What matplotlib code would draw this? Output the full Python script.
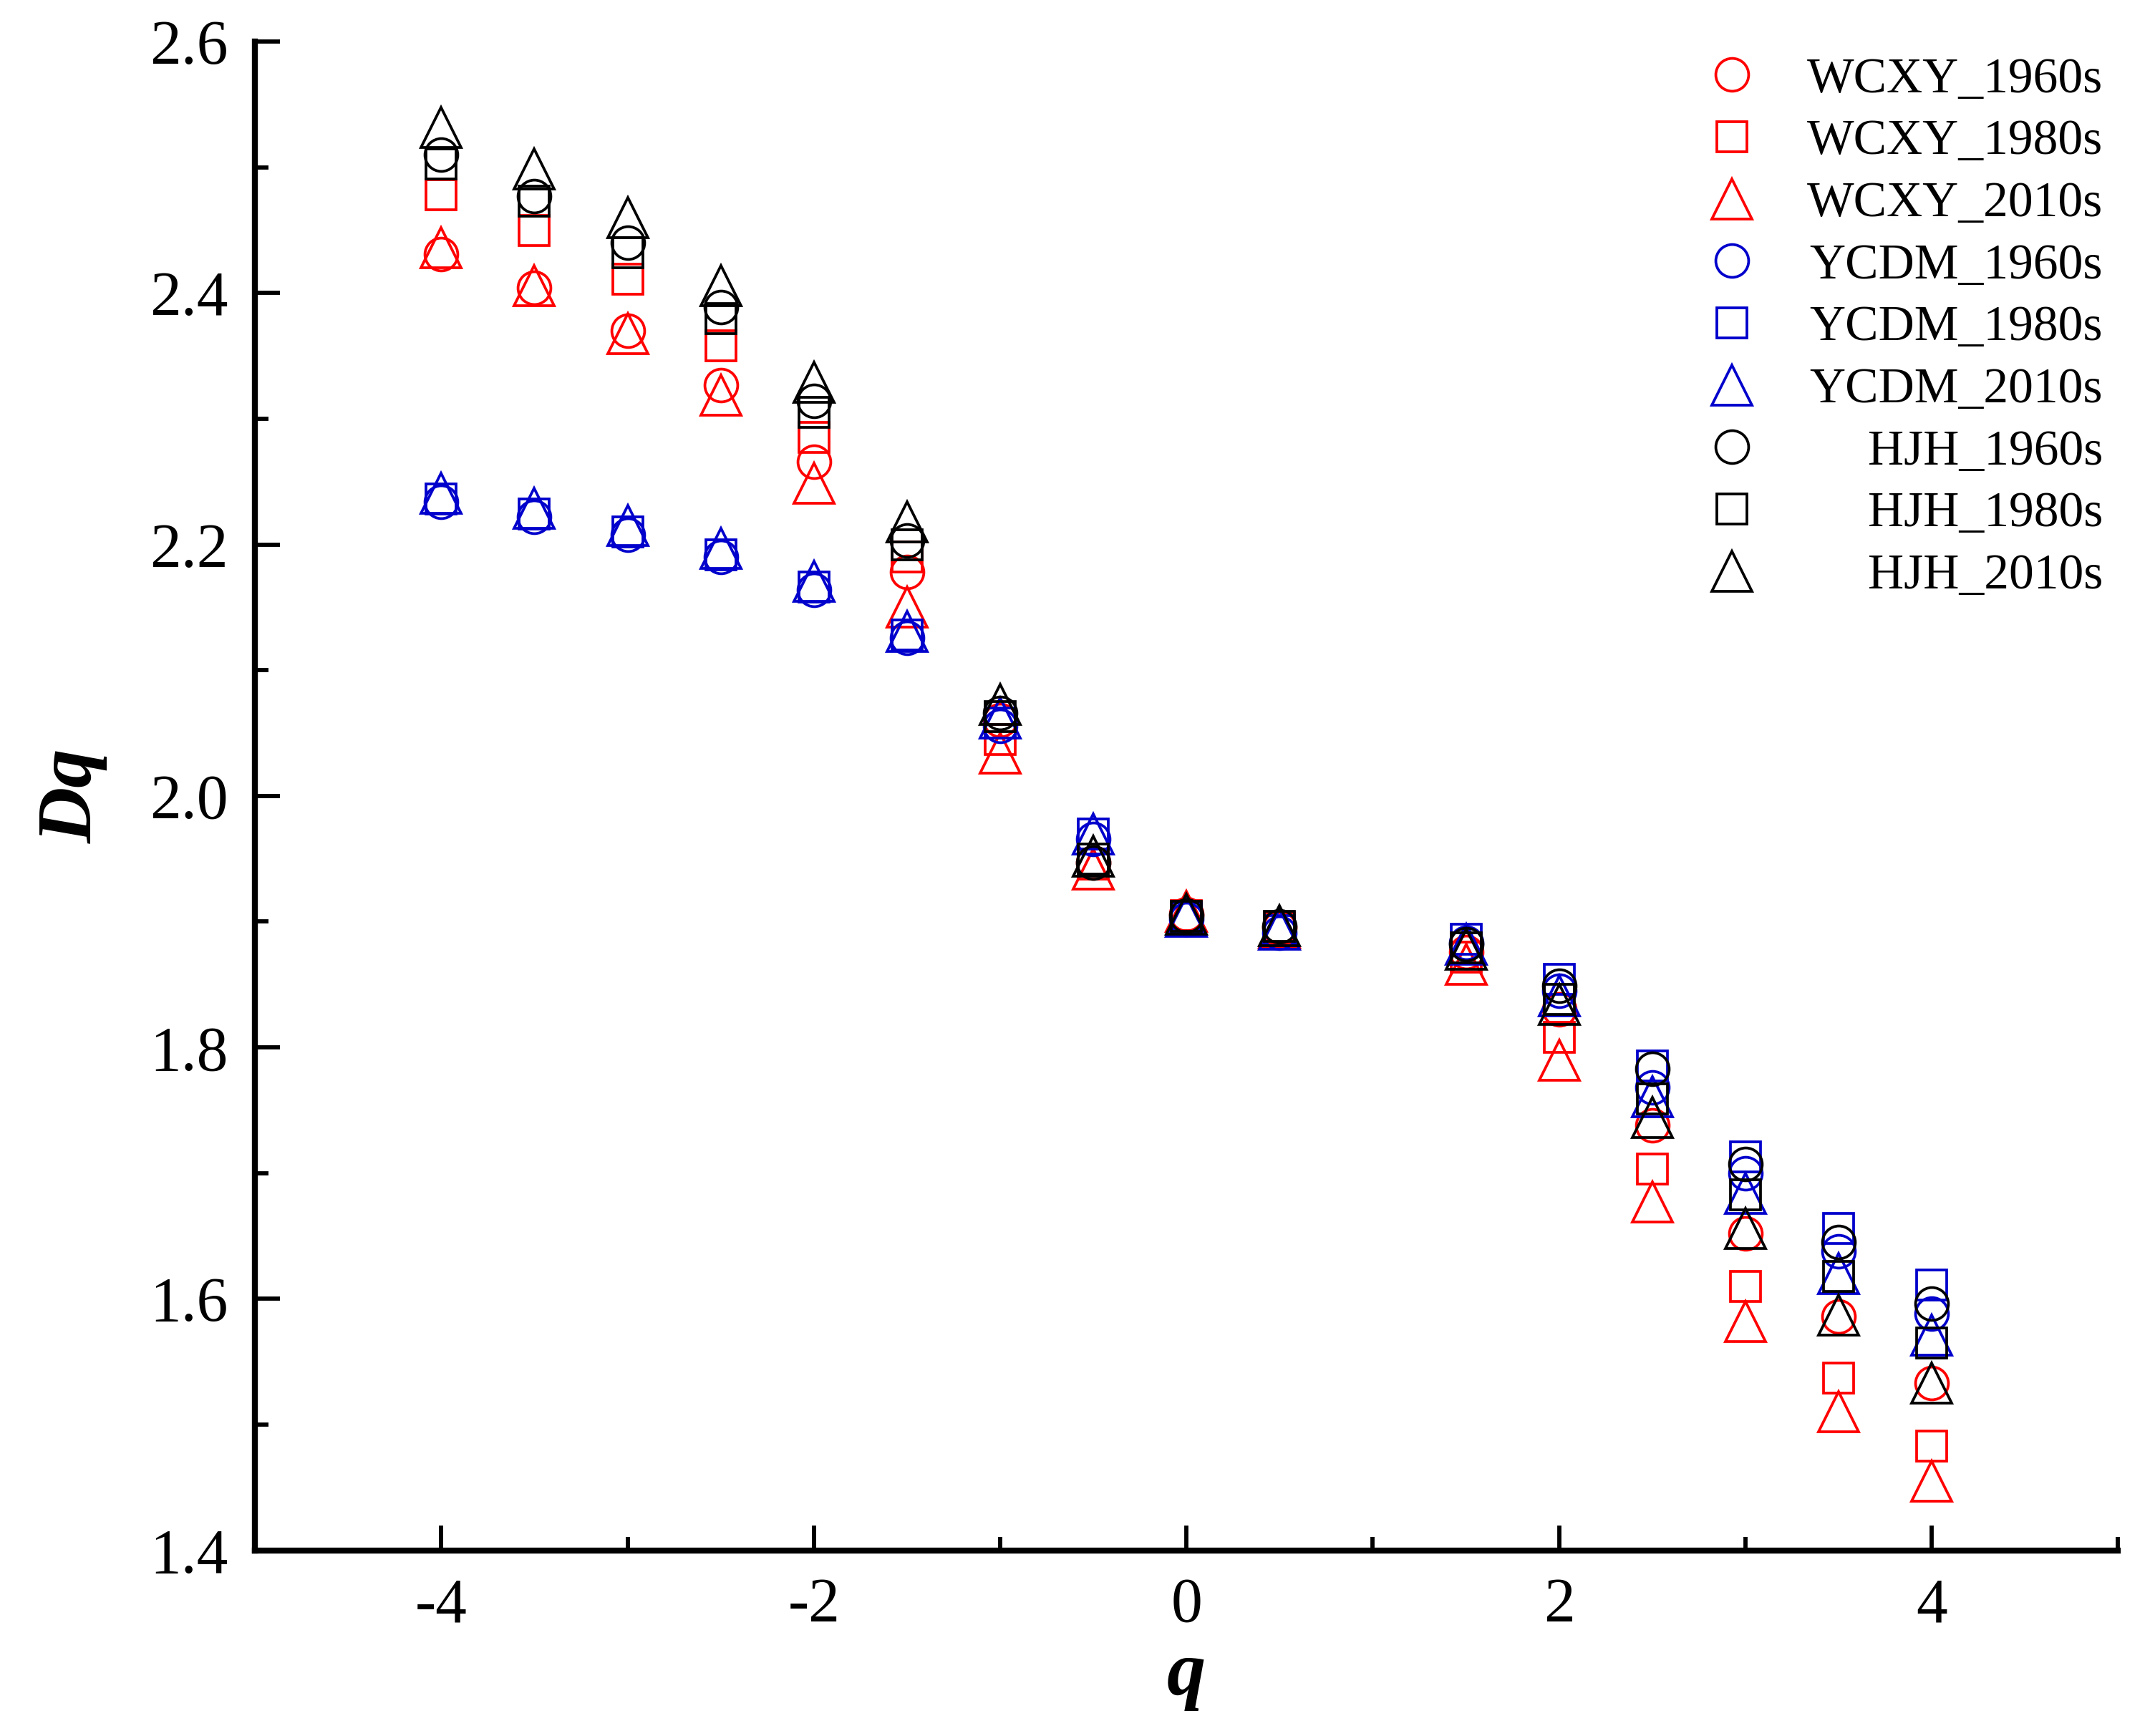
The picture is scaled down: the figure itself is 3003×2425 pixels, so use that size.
import matplotlib
matplotlib.use("Agg")
import matplotlib.pyplot as plt
from matplotlib.ticker import MultipleLocator

plt.rcParams['font.family'] = ['Liberation Serif', 'DejaVu Serif']

# q values (q = 1 is not in the data)
q = [-4, -3.5, -3, -2.5, -2, -1.5, -1, -0.5, 0, 0.5, 1.5, 2, 2.5, 3, 3.5, 4]

# Dq
wcxy_1960 = [2.431, 2.404, 2.370, 2.327, 2.266, 2.178, 2.060, 1.947, 1.906, 1.895, 1.876, 1.830, 1.738, 1.652, 1.586, 1.533]
wcxy_1980 = [2.478, 2.450, 2.411, 2.358, 2.285, 2.190, 2.045, 1.946, 1.905, 1.895, 1.872, 1.808, 1.703, 1.610, 1.537, 1.483]
wcxy_2010 = [2.436, 2.406, 2.368, 2.319, 2.249, 2.150, 2.034, 1.942, 1.908, 1.895, 1.866, 1.790, 1.677, 1.582, 1.510, 1.455]

ycdm_1960 = [2.234, 2.222, 2.208, 2.190, 2.164, 2.126, 2.056, 1.966, 1.902, 1.891, 1.883, 1.845, 1.768, 1.700, 1.638, 1.588]
ycdm_1980 = [2.236, 2.224, 2.210, 2.192, 2.166, 2.128, 2.058, 1.970, 1.903, 1.893, 1.886, 1.854, 1.785, 1.713, 1.656, 1.611]
ycdm_2010 = [2.241, 2.229, 2.215, 2.197, 2.171, 2.131, 2.062, 1.970, 1.904, 1.894, 1.882, 1.841, 1.761, 1.684, 1.620, 1.571]

hjh_1960 = [2.510, 2.477, 2.440, 2.389, 2.314, 2.203, 2.066, 1.947, 1.905, 1.896, 1.882, 1.849, 1.783, 1.707, 1.645, 1.596]
hjh_1980 = [2.503, 2.473, 2.432, 2.380, 2.305, 2.200, 2.063, 1.950, 1.904, 1.896, 1.879, 1.838, 1.759, 1.683, 1.618, 1.565]
hjh_2010 = [2.532, 2.499, 2.460, 2.406, 2.329, 2.218, 2.073, 1.952, 1.906, 1.897, 1.878, 1.834, 1.744, 1.656, 1.587, 1.533]

labels = ['WCXY_1960s', 'WCXY_1980s', 'WCXY_2010s',
          'YCDM_1960s', 'YCDM_1980s', 'YCDM_2010s',
          'HJH_1960s', 'HJH_1980s', 'HJH_2010s']
series = [wcxy_1960, wcxy_1980, wcxy_2010,
          ycdm_1960, ycdm_1980, ycdm_2010,
          hjh_1960, hjh_1980, hjh_2010]

red = '#ff0000'
blue = '#0000cc'
black = '#000000'
colors = [red] * 3 + [blue] * 3 + [black] * 3
markers = ['o', 's', '^'] * 3
sizes = {'o': 11.0, 's': 10.0, '^': 13.5}

fig = plt.figure(figsize=(3003 / 300, 2425 / 300), dpi=300)
ax = fig.add_axes([0.1186, 0.107, 0.8665, 0.869])

for ys, lab, c, m in zip(series, labels, colors, markers):
    ax.plot(q, ys, linestyle='none', marker=m, markersize=sizes[m],
            markerfacecolor='none', markeredgecolor=c, markeredgewidth=0.9,
            label=lab)

ax.set_xlim(-5, 5)
ax.set_ylim(1.4, 2.6)
ax.xaxis.set_major_locator(MultipleLocator(2))
ax.xaxis.set_minor_locator(MultipleLocator(1))
ax.yaxis.set_major_locator(MultipleLocator(0.2))
ax.yaxis.set_minor_locator(MultipleLocator(0.1))
ax.yaxis.set_major_formatter(plt.FuncFormatter(lambda v, p: '%.1f' % v))
ax.xaxis.set_major_formatter(plt.FuncFormatter(lambda v, p: '%d' % v))

for s in ['top', 'right']:
    ax.spines[s].set_visible(False)
for s in ['left', 'bottom']:
    ax.spines[s].set_linewidth(2.0)

ax.tick_params(which='both', direction='in', width=1.4, labelsize=21, pad=9)
ax.tick_params(which='major', length=8.5)
ax.tick_params(which='minor', length=4.5)

ax.set_xlabel('q', fontsize=26, fontweight='bold', fontstyle='italic', labelpad=2)
ax.set_ylabel('Dq', fontsize=26, fontweight='bold', fontstyle='italic', labelpad=14)

leg = ax.legend(loc='upper right', bbox_to_anchor=(0.978, 0.967),
                bbox_transform=fig.transFigure, frameon=False, fontsize=16.7,
                labelspacing=0.33, handlelength=1.2, handletextpad=0.9,
                borderaxespad=0, borderpad=0)

# right-align the legend texts: push each one over by its width shortfall
fig.canvas.draw()
r = fig.canvas.get_renderer()
widths = [t.get_window_extent(r).width for t in leg.get_texts()]
maxw = max(widths)
for t, w in zip(leg.get_texts(), widths):
    t.set_position((maxw - w, 0))

fig.savefig('out.png', dpi=300)
